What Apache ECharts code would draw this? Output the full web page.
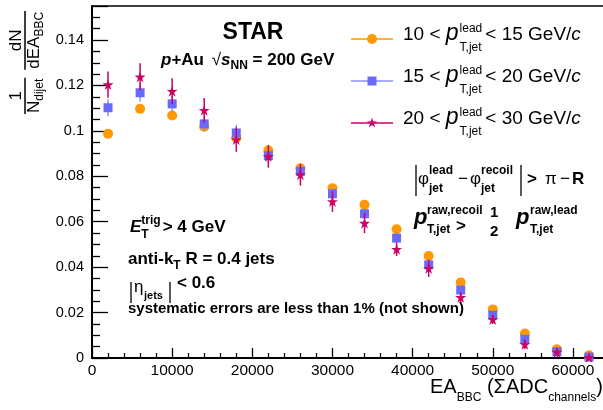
<!DOCTYPE html>
<html><head><meta charset="utf-8">
<script src="https://cdn.jsdelivr.net/npm/echarts@6/dist/echarts.min.js"></script>
<style>html,body{margin:0;padding:0;background:#fff;}#c{width:603px;height:410px;}</style>
</head><body><div id="c"></div>
<script>
// ---- data ----
const xCenters = [2000, 6000, 10000, 14000, 18000, 22000, 26000, 30000, 34000, 38000, 42000, 46000, 50000, 54000, 58000, 62000];
const y10to15 = [0.0988, 0.1097, 0.1068, 0.1018, 0.0969, 0.0914, 0.0835, 0.0748, 0.0675, 0.0567, 0.0449, 0.0333, 0.0214, 0.0108, 0.0038, 0.0012];
const e10to15 = [0.0010, 0.0010, 0.0010, 0.0010, 0.0010, 0.0009, 0.0009, 0.0008, 0.0008, 0.0007, 0.0006, 0.0005, 0.0004, 0.0003, 0.0002, 0.0001];
const y15to20 = [0.1102, 0.1168, 0.1119, 0.1031, 0.0991, 0.0891, 0.0822, 0.0723, 0.0635, 0.0528, 0.0410, 0.0299, 0.0189, 0.0083, 0.0027, 0.0004];
const e15to20 = [0.0037, 0.0038, 0.0035, 0.0032, 0.0035, 0.0030, 0.0027, 0.0024, 0.0022, 0.0020, 0.0018, 0.0015, 0.0012, 0.0008, 0.0005, 0.0003];
const y20to30 = [0.1204, 0.1238, 0.1175, 0.1091, 0.0962, 0.0888, 0.0807, 0.0689, 0.0594, 0.0479, 0.0395, 0.0267, 0.0170, 0.0060, 0.0026, 0.0003];
const e20to30 = [0.0058, 0.0060, 0.0057, 0.0054, 0.0054, 0.0050, 0.0048, 0.0046, 0.0044, 0.0030, 0.0038, 0.0022, 0.0020, 0.0020, 0.0012, 0.0008];
const legendRanges = [['10', '15'], ['15', '20'], ['20', '30']];
const yTickInterval = 0.02;
const xTickInterval = 10000;

// ---- helpers ----
const FONT = '"Liberation Sans", Arial, Helvetica, sans-serif';
const mctx = document.createElement('canvas').getContext('2d');
function S(size, bold, italic, family) { return {size: size, bold: !!bold, italic: !!italic, family: family || FONT}; }
function fstr(s) { return (s.italic ? 'italic ' : '') + (s.bold ? 'bold ' : '') + s.size + 'px ' + s.family; }
function tw(t, s) { mctx.font = fstr(s); return mctx.measureText(t).width; }
function txt(x, base, t, s, align, color) {
  return {type: 'text', x: x, y: base - 0.3465 * s.size, silent: true, z: 100,
    style: {text: t, fontSize: s.size, fontFamily: s.family, fontWeight: s.bold ? 'bold' : 'normal',
      fontStyle: s.italic ? 'italic' : 'normal', fill: color || '#000',
      align: align || 'left', textAlign: align || 'left', verticalAlign: 'middle', textVerticalAlign: 'middle'}};
}
function seq(x0, base, parts) {
  const els = []; let x = x0;
  parts.forEach(function (p) {
    if (p.gap !== undefined) { x += p.gap; return; }
    if (p.sup !== undefined || p.sub !== undefined) {
      let w = 0;
      if (p.sup) { els.push(txt(x, base - p.supDy, p.sup, p.s)); w = Math.max(w, tw(p.sup, p.s)); }
      if (p.sub) { els.push(txt(x, base + p.subDy, p.sub, p.s)); w = Math.max(w, tw(p.sub, p.s)); }
      x += w;
    } else {
      els.push(txt(x, base + (p.dy || 0), p.t, p.s)); x += tw(p.t, p.s);
    }
  });
  return els;
}
function vline(x, y1, y2, w) { return {type: 'line', silent: true, z: 100, shape: {x1: x, y1: y1, x2: x, y2: y2}, style: {stroke: '#000', lineWidth: w || 1.3}}; }
function hline(x1, x2, y, w) { return {type: 'line', silent: true, z: 100, shape: {x1: x1, y1: y, x2: x2, y2: y}, style: {stroke: '#000', lineWidth: w || 1.5}}; }

const COL_O = '#FF9900', COL_B = '#6A6AFA', COL_BL = '#8E8EFF', COL_M = '#CC0066';
const STAR = 'path://M0,-10 L2.2,-3.0 L9.51,-3.09 L3.6,1.2 L5.88,8.09 L0,3.7 L-5.88,8.09 L-3.6,1.2 L-9.51,-3.09 L-2.2,-3.0 Z';
function starPoints(cx, cy, R, r) {
  const pts = [];
  for (let k = 0; k < 10; k++) {
    const a = -Math.PI / 2 + k * Math.PI / 5;
    const rr = k % 2 === 0 ? R : r;
    pts.push([cx + rr * Math.cos(a), cy + rr * Math.sin(a)]);
  }
  return pts;
}

// ---- graphics (texts) ----
const g = [];
g.push(txt(253, 41, 'STAR', S(23, true), 'center'));
g.push.apply(g, seq(161, 66, [
  {t: 'p', s: S(17, true, true)}, {t: '+Au ', s: S(17, true)}, {gap: 3},
  {t: '\u221A', s: S(17, false)}, {t: 's', s: S(17, true, true)},
  {sub: 'NN', s: S(12, true), subDy: 4}, {t: ' = 200 GeV', s: S(17, true)}
]));
// legend
const legRows = [39, 81, 123];
const legCols = [COL_O, COL_BL, COL_M];
legRows.forEach(function (ry, i) {
  g.push({type: 'line', silent: true, z: 100, shape: {x1: 351, y1: ry, x2: 393, y2: ry}, style: {stroke: legCols[i], lineWidth: 1.5}});
  if (i === 0) g.push({type: 'circle', silent: true, z: 101, shape: {cx: 372, cy: ry, r: 5}, style: {fill: COL_O}});
  if (i === 1) g.push({type: 'rect', silent: true, z: 101, shape: {x: 367.5, y: ry - 4.5, width: 9, height: 9}, style: {fill: COL_B}});
  if (i === 2) g.push({type: 'polygon', silent: true, z: 101, shape: {points: starPoints(372, ry, 5.5, 2)}, style: {fill: COL_M}});
  g.push.apply(g, seq(403, ry + 2.7, [
    {t: legendRanges[i][0] + ' < ', s: S(19)}, {t: 'p', s: S(23, false, true)}, {gap: 1},
    {sup: 'lead', sub: 'T,jet', s: S(12), supDy: 8.7, subDy: 10.3}, {gap: 3},
    {t: '< ' + legendRanges[i][1] + ' GeV/', s: S(19)}, {t: 'c', s: S(19, false, true)}
  ]));
});
// |phi_lead - phi_recoil| > pi - R
g.push(vline(416, 165, 196));
g.push(txt(418, 185, '\u03C6', S(17)));
g.push(txt(429, 175, 'lead', S(12, true)));
g.push(txt(429, 193, 'jet', S(12, true)));
g.push(txt(458, 185, '\u2212', S(17)));
g.push(txt(470, 185, '\u03C6', S(17)));
g.push(txt(481, 175, 'recoil', S(12, true)));
g.push(txt(481, 193, 'jet', S(12, true)));
g.push(vline(521, 165, 196));
g.push(txt(527, 185, '>', S(17, true)));
g.push(txt(545, 185, '\u03C0', S(17)));
g.push(txt(560, 185, '\u2212', S(17)));
g.push(txt(572, 185, 'R', S(17, true)));
// p_T raw,recoil > 1/2 p_T raw,lead
g.push(txt(414, 226, 'p', S(22, true, true)));
g.push(txt(427, 215, 'raw,recoil', S(12, true)));
g.push(txt(427, 234, 'T,jet', S(12, true)));
g.push(txt(456, 232, '>', S(17, true)));
g.push(txt(490, 218, '1', S(15, true)));
g.push(txt(490, 237, '2', S(15, true)));
g.push(txt(516, 226, 'p', S(22, true, true)));
g.push(txt(530, 215, 'raw,lead', S(12, true)));
g.push(txt(530, 234, 'T,jet', S(12, true)));
// left annotations
g.push.apply(g, seq(130, 233, [
  {t: 'E', s: S(17, true, true)}, {sup: 'trig', sub: 'T', s: S(12, true), supDy: 8, subDy: 6}, {gap: 2},
  {t: '> 4 GeV', s: S(17, true)}
]));
g.push.apply(g, seq(128, 265, [
  {t: 'anti-k', s: S(17, true)}, {sub: 'T', s: S(12, true), subDy: 5}, {t: ' R = 0.4 jets', s: S(17, true)}
]));
g.push(vline(131, 282, 303));
g.push(txt(134, 293, '\u03B7', S(17)));
g.push(txt(144, 300, 'jets', S(11, true)));
g.push(vline(170, 282, 303));
g.push(txt(177, 289, '< 0.6', S(17, true)));
g.push(txt(128, 314, 'systematic errors are less than 1% (not shown)', S(15, true)));
// x axis title
g.push.apply(g, seq(430, 394, [
  {t: 'EA', s: S(20)}, {sub: 'BBC', s: S(12), subDy: 7.5}, {t: ' (\u03A3ADC', s: S(20)},
  {sub: 'channels', s: S(12), subDy: 7.5}, {t: ')', s: S(20)}
]));
// y axis title (rotated fraction)
(function () {
  const nS = S(17), sS = S(12);
  const ch = [];
  const W1 = tw('N', nS) + tw('dijet', sS);
  ch.push(txt(W1 / 2 - tw('1', nS) / 2, -3, '1', nS));
  ch.push(hline(-1, W1 + 1, 0, 1.5));
  ch.push.apply(ch, seq(0, 15, [{t: 'N', s: nS}, {sub: 'dijet', s: sS, subDy: 3.5}]));
  const x2 = W1 + 10;
  const W2 = tw('dEA', nS) + tw('BBC', sS);
  ch.push(txt(x2 + W2 / 2 - tw('dN', nS) / 2, -3, 'dN', nS));
  ch.push(hline(x2 - 1, x2 + W2 + 1, 0, 1.5));
  ch.push.apply(ch, seq(x2, 15, [{t: 'dEA', s: nS}, {sub: 'BBC', s: sS, subDy: 3.5}]));
  g.push({type: 'group', x: 25, y: 113, rotation: Math.PI / 2, children: ch});
})();

// ---- series ----
function errRender(color, width) {
  return function (params, api) {
    const x = api.value(0), y = api.value(1), e = api.value(2);
    const p1 = api.coord([x, y - e]), p2 = api.coord([x, y + e]);
    return {type: 'line', shape: {x1: p1[0], y1: p1[1], x2: p2[0], y2: p2[1]}, style: {stroke: color, lineWidth: width}};
  };
}
function errData(ys, es) { return xCenters.map(function (x, i) { return [x, ys[i], es[i]]; }); }
function ptData(ys) { return xCenters.map(function (x, i) { return [x, ys[i]]; }); }

const chart = echarts.init(document.getElementById('c'), null, {renderer: 'canvas'});
chart.setOption({
  animation: false,
  backgroundColor: '#fff',
  textStyle: {fontFamily: FONT},
  grid: {left: 92, top: 6, right: -2, bottom: 52, show: true, borderColor: '#000', borderWidth: 1.5, containLabel: false, outerBoundsMode: 'none'},
  xAxis: {
    type: 'value', min: 0, max: 64000, interval: xTickInterval,
    axisLine: {show: true, onZero: false, lineStyle: {color: '#000', width: 2}},
    axisTick: {show: true, inside: true, length: 10, lineStyle: {color: '#000', width: 1.3}},
    minorTick: {show: true, splitNumber: 5, length: 5, lineStyle: {color: '#000', width: 1.3}},
    splitLine: {show: false},
    axisLabel: {show: true, color: '#000', fontSize: 15.5, fontFamily: FONT, margin: 5, showMaxLabel: false, hideOverlap: false,
      formatter: function (v) { return String(v); }}
  },
  yAxis: {
    type: 'value', min: 0, max: 0.155, interval: yTickInterval,
    axisLine: {show: true, onZero: false, lineStyle: {color: '#000', width: 2}},
    axisTick: {show: true, inside: true, length: 16, lineStyle: {color: '#000', width: 1.3}},
    minorTick: {show: true, splitNumber: 4, length: 8, lineStyle: {color: '#000', width: 1.3}},
    splitLine: {show: false},
    axisLabel: {show: true, color: '#000', fontSize: 14.5, fontFamily: FONT, margin: 8, showMaxLabel: false, hideOverlap: false,
      formatter: function (v) { return String(Math.round(v * 1000) / 1000); }}
  },
  series: [
    {type: 'custom', renderItem: errRender(COL_O, 1.5), data: errData(y10to15, e10to15), encode: {x: 0, y: 1}, z: 2, silent: true},
    {type: 'scatter', data: ptData(y10to15), symbol: 'circle', symbolSize: 10, itemStyle: {color: COL_O, opacity: 1}, z: 3, silent: true},
    {type: 'custom', renderItem: errRender(COL_BL, 1.5), data: errData(y15to20, e15to20), encode: {x: 0, y: 1}, z: 4, silent: true},
    {type: 'scatter', data: ptData(y15to20), symbol: 'rect', symbolSize: 9, itemStyle: {color: COL_B, opacity: 1}, z: 5, silent: true},
    {type: 'custom', renderItem: errRender(COL_M, 1.5), data: errData(y20to30, e20to30), encode: {x: 0, y: 1}, z: 6, silent: true},
    {type: 'scatter', data: ptData(y20to30), symbol: STAR, symbolSize: 11, itemStyle: {color: COL_M, opacity: 1}, z: 7, silent: true}
  ],
  graphic: {elements: g}
});
</script></body></html>
